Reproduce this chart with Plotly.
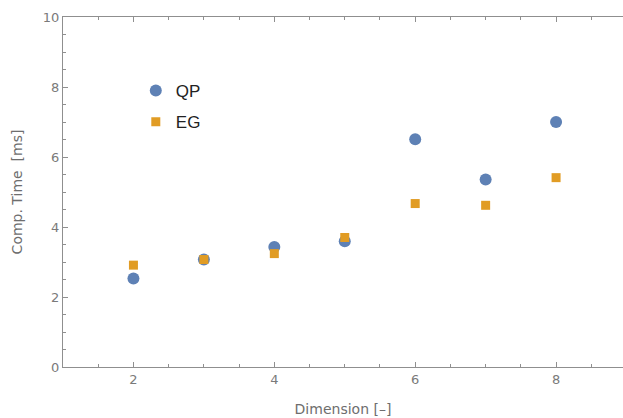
import plotly.graph_objects as go

dimension = [2, 3, 4, 5, 6, 7, 8]
qp_time = [2.53, 3.07, 3.43, 3.59, 6.51, 5.36, 7.00]
eg_time = [2.91, 3.07, 3.24, 3.70, 4.67, 4.62, 5.41]

fig = go.Figure()
fig.add_trace(go.Scatter(
    x=dimension, y=qp_time, mode="markers", name="QP", legendgroup="qp",
    marker=dict(symbol="circle", size=12, color="#5E81B5"),
))
fig.add_trace(go.Scatter(
    x=dimension, y=eg_time, mode="markers", name="EG", legendgroup="eg",
    marker=dict(symbol="square", size=9, color="#E19C24"),
))

axis_color = "#8f8f8f"
tick_font = dict(family="DejaVu Sans", size=13, color="#7a7a7a")
title_font = dict(family="DejaVu Sans", size=14, color="#6e6e6e")

fig.update_layout(
    width=623, height=418,
    margin=dict(l=63, r=0, t=17, b=51, autoexpand=False),
    paper_bgcolor="white", plot_bgcolor="white",
    showlegend=True,
    legend=dict(
        x=0.13, y=0.84, xanchor="left", yanchor="top",
        font=dict(family="Liberation Sans", size=17, color="#222222"),
        bgcolor="rgba(0,0,0,0)", traceorder="grouped", tracegroupgap=6,
        itemsizing="trace",
    ),
    xaxis=dict(
        range=[1, 8.95], showgrid=False, zeroline=False, automargin=False,
        showline=True, linecolor=axis_color, linewidth=1.3, mirror="ticks",
        ticks="inside", ticklen=5, tickcolor=axis_color, tickwidth=1,
        tick0=0, dtick=2, tickfont=tick_font,
        minor=dict(dtick=0.5, tick0=0, ticks="inside", ticklen=3, tickcolor=axis_color),
        title=dict(text="Dimension [–]", font=title_font, standoff=18),
    ),
    yaxis=dict(
        range=[0, 10], showgrid=False, zeroline=False, automargin=False,
        showline=True, linecolor=axis_color, linewidth=1.3, mirror=False,
        ticks="inside", ticklen=5, tickcolor=axis_color, tickwidth=1,
        tick0=0, dtick=2, tickfont=tick_font,
        minor=dict(dtick=0.5, tick0=0, ticks="inside", ticklen=3, tickcolor=axis_color, showgrid=False),
        title=dict(text="Comp. Time  [ms]", font=title_font, standoff=16),
    ),
)

fig.write_html(
    "out.html",
    config={"displayModeBar": False},
    post_script="document.body.style.margin='0';document.body.style.overflow='hidden';document.documentElement.style.overflow='hidden';",
)
